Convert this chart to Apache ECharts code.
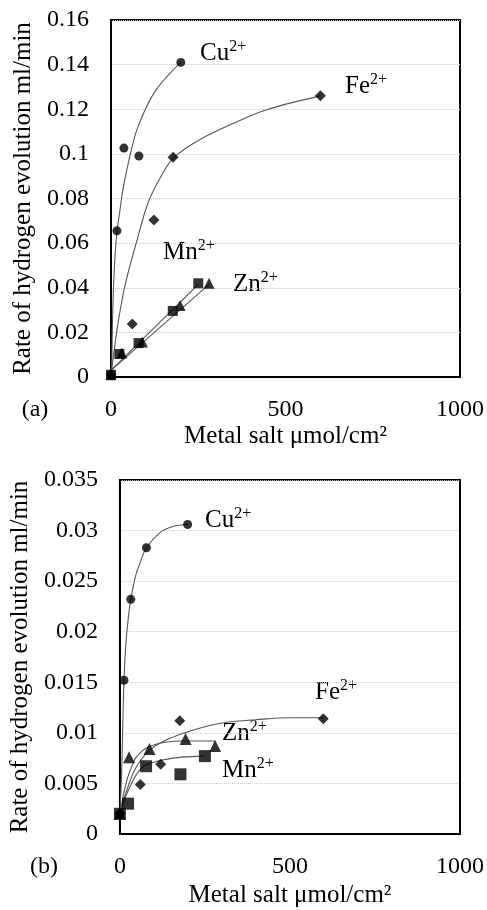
<!DOCTYPE html>
<html><head><meta charset="utf-8">
<script src="https://cdn.jsdelivr.net/npm/echarts@6/dist/echarts.min.js"></script>
<style>html,body{margin:0;padding:0;background:#fff}#c{width:487px;height:910px}</style>
</head><body><div id="c"></div>
<script>
// ---------- Panel (a) : measured points ----------
const cuA = [[0,0.001],[17,0.0655],[37,0.1026],[80,0.099],[200,0.141]];
const feA = [[0,0.001],[61,0.0238],[123,0.0704],[178,0.0985],[600,0.126]];
const mnA = [[0,0.001],[24,0.0103],[79,0.0152],[177,0.0296],[250,0.042]];
const znA = [[0,0.001],[31,0.0108],[90,0.0157],[198,0.032],[281,0.042]];
// Panel (a) : trend curves
const cuFitA = [[2,0],[5,0.03],[10,0.05],[17,0.065],[26,0.075],[34,0.084],[54,0.099],[77,0.112],[126,0.128],[200,0.141]];
const feFitA = [[0,0.001],[10,0.013],[20,0.024],[40,0.041],[74,0.061],[106,0.078],[140,0.089],[178,0.098],[250,0.106],[355,0.114],[450,0.12],[600,0.126]];
const mnFitA = [[0,0.003],[250,0.0415]];
const znFitA = [[0,0.003],[281,0.0415]];

// ---------- Panel (b) : measured points ----------
const cuB = [[0,0.002],[12,0.0152],[32,0.0232],[78,0.0283],[199,0.0306]];
const feB = [[0,0.002],[60,0.0049],[120,0.0069],[176,0.0112],[598,0.0114]];
const znB = [[0,0.002],[27,0.0076],[87,0.0084],[193,0.0094],[280,0.0087]];
const mnB = [[0,0.002],[24,0.003],[77,0.0067],[178,0.0059],[250,0.0077]];
// Panel (b) : trend curves
const cuFitB = [[0,0.002],[5,0.006],[8,0.01],[10,0.013],[12,0.0152],[16,0.018],[22,0.0205],[32,0.0232],[46,0.0255],[58,0.0267],[78,0.0283],[118,0.0298],[156,0.0304],[200,0.0306]];
const feFitB = [[0,0.002],[8,0.003],[22,0.0045],[46,0.0065],[84,0.0082],[130,0.0092],[190,0.01],[250,0.0106],[305,0.011],[400,0.0113],[500,0.0115],[600,0.0115]];
const znFitB = [[0,0.002],[10,0.0038],[22,0.0055],[35,0.0067],[46,0.0075],[65,0.0082],[84,0.0086],[120,0.009],[180,0.0092],[280,0.0092]];
const mnFitB = [[0,0.002],[17,0.0037],[37,0.0052],[55,0.0062],[75,0.0068],[100,0.0071],[123,0.0073],[180,0.0076],[248,0.0077]];

// ---------- axes ----------
const xMin = 0, xMax = 1000, xStep = 500;
const yMaxA = 0.16, yStepA = 0.02;
const yMaxB = 0.035, yStepB = 0.005;
const xTitle = 'Metal salt μmol/cm²';
const yTitle = 'Rate of hydrogen evolution ml/min';

const FONT = '"Liberation Serif", "DejaVu Serif", serif';
const chart = echarts.init(document.getElementById('c'), null, {renderer:'canvas'});

function xAxis(gi, gap){
  return {type:'value', gridIndex:gi, min:xMin, max:xMax, interval:xStep,
    axisLine:{show:true, lineStyle:{color:'#000', width:2}}, axisTick:{show:false},
    splitLine:{show:false},
    axisLabel:{color:'#000', fontFamily:FONT, fontSize:24, margin:21, formatter: v => String(v)},
    name:xTitle, nameLocation:'middle', nameGap:gap,
    nameTextStyle:{color:'#000', fontFamily:FONT, fontSize:25}};
}
function yAxis(gi, max, step, dec){
  return {type:'value', gridIndex:gi, min:0, max:max, interval:step,
    axisLine:{show:true, lineStyle:{color:'#000', width:2}}, axisTick:{show:false},
    splitLine:{show:true, lineStyle:{color:'#c8c8c8', type:'dotted', width:1}},
    axisLabel:{color:'#000', fontFamily:FONT, fontSize:24, margin:22,
      formatter: v => String(+v.toFixed(dec))},
    name:yTitle, nameLocation:'middle', nameGap:68, nameRotate:90,
    nameTextStyle:{color:'#000', fontFamily:FONT, fontSize:25}};
}
function fit(data, xi){
  return {type:'line', xAxisIndex:xi, yAxisIndex:xi, data:data, smooth:0.35,
    showSymbol:false, symbol:'none', silent:true, z:2,
    lineStyle:{color:'#555', width:1.1}};
}
function pts(data, xi, symbol, size){
  return {type:'scatter', xAxisIndex:xi, yAxisIndex:xi, data:data, symbol:symbol,
    symbolSize:size, itemStyle:{color:'#000'}, z:5};
}
function lab(x, y, base){
  return {type:'text', x:x, y:y, style:{
    text:'{m|'+base+'}{s|2+}', fill:'#000', verticalAlign:'middle', align:'left',
    rich:{m:{fontFamily:FONT, fontSize:25, lineHeight:28, verticalAlign:'middle'},
          s:{fontFamily:FONT, fontSize:16, lineHeight:28, verticalAlign:'top'}}}};
}

chart.setOption({
  animation:false,
  backgroundColor:'#fff',
  grid:[
    {left:111, top:20, width:349, height:357, show:true, borderColor:'#000', borderWidth:2, backgroundColor:'transparent'},
    {left:114, top:480, width:347, height:354, show:true, borderColor:'#000', borderWidth:2, backgroundColor:'transparent'}
  ],
  xAxis:[xAxis(0,47), xAxis(1,49)],
  yAxis:[yAxis(0,yMaxA,yStepA,2), yAxis(1,yMaxB,yStepB,3)],
  series:[
    fit(cuFitA,0), fit(feFitA,0), fit(mnFitA,0), fit(znFitA,0),
    pts(cuA,0,'circle',9), pts(feA,0,'diamond',11), pts(znA,0,'triangle',11), pts(mnA,0,'rect',10),
    fit(cuFitB,1), fit(feFitB,1), fit(znFitB,1), fit(mnFitB,1),
    pts(cuB,1,'circle',9), pts(feB,1,'diamond',11), pts(znB,1,'triangle',12), pts(mnB,1,'rect',12)
  ],
  graphic:[
    lab(200,53,'Cu'), lab(345,86,'Fe'), lab(163,252,'Mn'), lab(233,284,'Zn'),
    lab(205,520,'Cu'), lab(315,692,'Fe'), lab(222,733,'Zn'), lab(222,770,'Mn'),
    {type:'text', x:35, y:410, style:{text:'(a)', fill:'#000', font:'24px '+FONT, align:'center', verticalAlign:'middle'}},
    {type:'text', x:44, y:867, style:{text:'(b)', fill:'#000', font:'24px '+FONT, align:'center', verticalAlign:'middle'}}
  ]
});
</script></body></html>
